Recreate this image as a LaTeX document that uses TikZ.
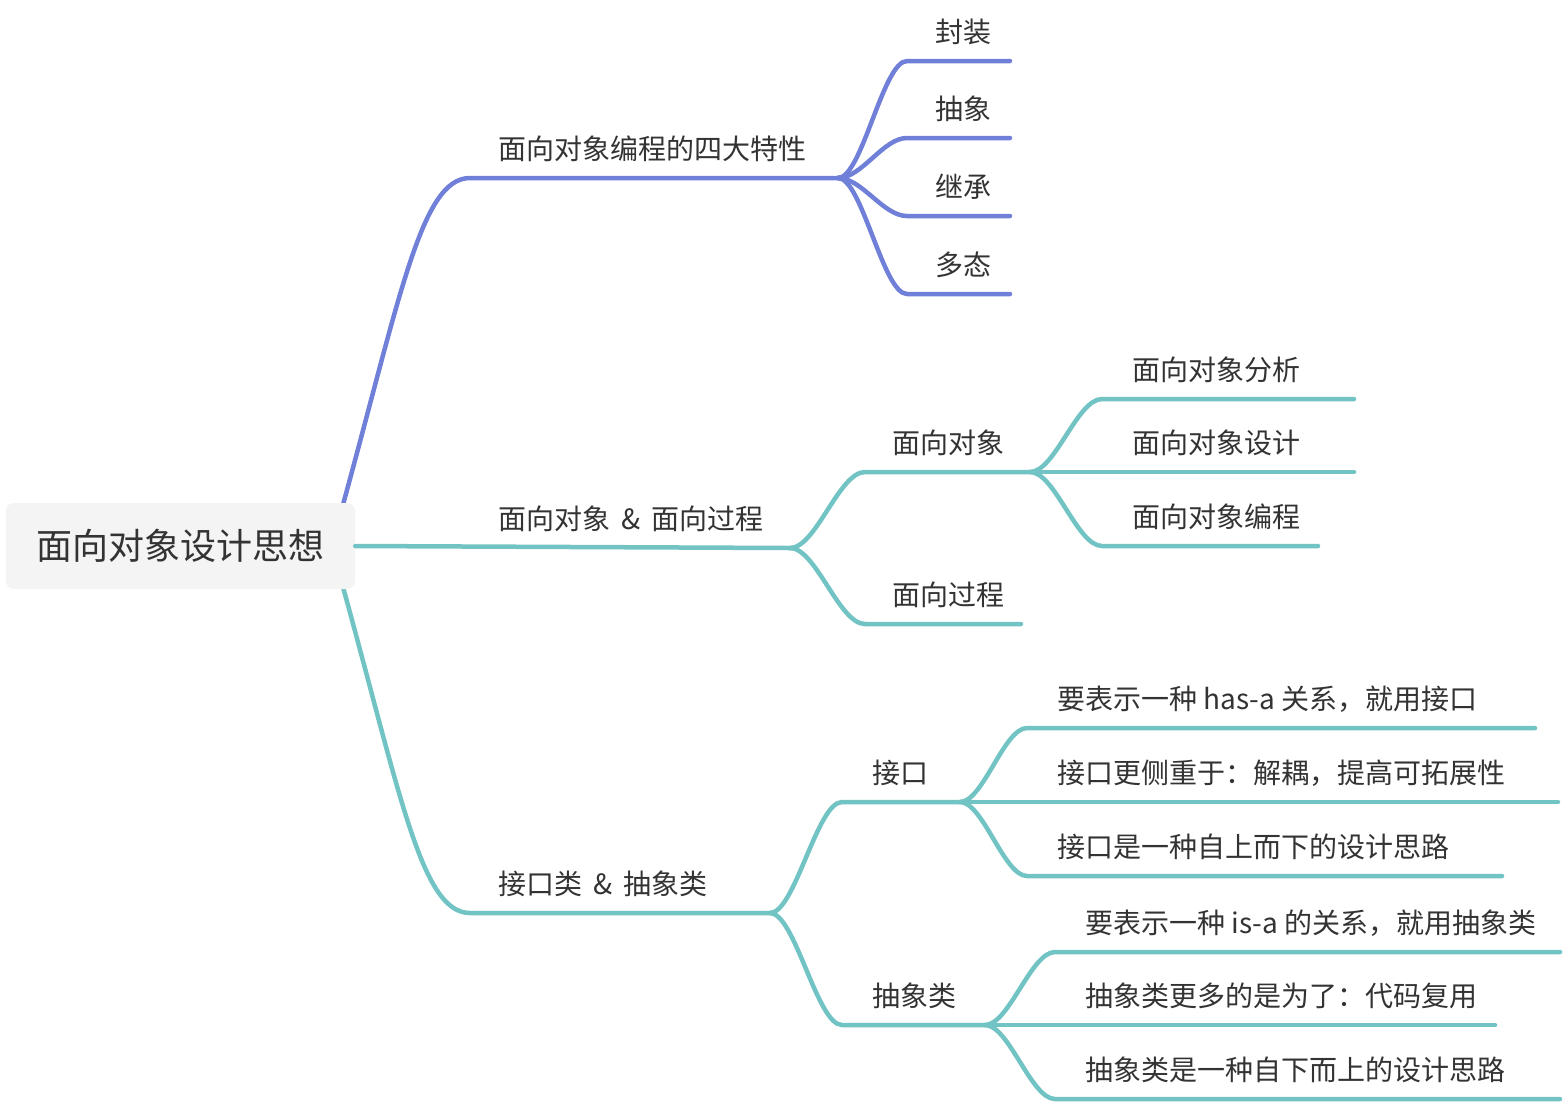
\documentclass[tikz,border=0pt]{standalone}
\usepackage{fontspec}
\newfontfamily\cjk{Noto Sans CJK SC}
\usetikzlibrary{backgrounds}
\definecolor{bl}{RGB}{112,128,216}
\definecolor{tl}{RGB}{114,196,196}
\definecolor{tx}{RGB}{51,51,51}
\definecolor{rootbg}{RGB}{244,244,244}
\begin{document}
\begin{tikzpicture}[x=1pt,y=-1pt,
  br/.style={line width=4.5pt, line cap=round, line join=round},
  lbl/.style={anchor=base west, inner sep=0pt, text=tx, font=\cjk\fontsize{28}{34}\selectfont},
  rootbox/.style={fill=rootbg, rounded corners=8pt, minimum width=349pt, minimum height=86pt, inner sep=0pt, text=tx, font=\cjk\fontsize{36}{42}\selectfont}]
\useasboundingbox (0,0) rectangle (1564,1104);

% root
\node[rootbox] (root) at (180.5,546) {面向对象设计思想};

% coordinates
\coordinate (r1) at (336,530);
\coordinate (r3) at (336,562);
\coordinate (b1s) at (470,178);
\coordinate (b1) at (838,178);
\coordinate (b2) at (790,548);
\coordinate (b3s) at (470,913);
\coordinate (b3) at (770,913);

\begin{scope}[on background layer]
\fill[white] (0,0) rectangle (1564,1104);
\draw[br,bl] (r1) .. controls (400,300) and (420,178) .. (b1s) -- (b1);
\draw[br,tl] (r3) .. controls (400,790) and (420,913) .. (b3s) -- (b3);
\end{scope}
\draw[br,tl] (root.east) -- (b2);

% branch 1 labels
\node[lbl] (t1) at (498,159) {面向对象编程的四大特性};

% branch 1 leaves
\coordinate (l1s) at (907,61);   \coordinate (l1e) at (1010,61);
\coordinate (l2s) at (907,138);  \coordinate (l2e) at (1010,138);
\coordinate (l3s) at (907,216);  \coordinate (l3e) at (1010,216);
\coordinate (l4s) at (907,294);  \coordinate (l4e) at (1010,294);
\draw[br,bl] (b1) .. controls (862,178) and (883,61) .. (l1s) -- (l1e);
\draw[br,bl] (b1) .. controls (862,178) and (883,138) .. (l2s) -- (l2e);
\draw[br,bl] (b1) .. controls (862,178) and (883,216) .. (l3s) -- (l3e);
\draw[br,bl] (b1) .. controls (862,178) and (883,294) .. (l4s) -- (l4e);
\node[lbl] (t11) at (935,42) {封装};
\node[lbl] (t12) at (935,119) {抽象};
\node[lbl] (t13) at (935,197) {继承};
\node[lbl] (t14) at (935,275) {多态};

% branch 2
\node[lbl] (t2) at (498,529) {面向对象\hspace{11pt}\&\hspace{11pt}面向过程};
\coordinate (m1s) at (865,472); \coordinate (b21) at (1030,472);
\coordinate (m2s) at (865,624); \coordinate (m2e) at (1021,624);
\draw[br,tl] (b2) .. controls (816,548) and (839,472) .. (m1s) -- (b21);
\draw[br,tl] (b2) .. controls (816,548) and (839,624) .. (m2s) -- (m2e);
\node[lbl] (t21) at (892,453) {面向对象};
\node[lbl] (t22) at (892,605) {面向过程};

\coordinate (n1s) at (1102,399); \coordinate (n1e) at (1354,399);
\coordinate (n2e) at (1354,472);
\coordinate (n3s) at (1102,546); \coordinate (n3e) at (1318,546);
\draw[br,tl] (b21) .. controls (1055,472) and (1077,399) .. (n1s) -- (n1e);
\draw[br,tl] (b21) -- (n2e);
\draw[br,tl] (b21) .. controls (1055,472) and (1077,546) .. (n3s) -- (n3e);
\node[lbl] (t211) at (1132,380) {面向对象分析};
\node[lbl] (t212) at (1132,453) {面向对象设计};
\node[lbl] (t213) at (1132,527) {面向对象编程};

% branch 3
\node[lbl] (t3) at (498,894) {接口类\hspace{11pt}\&\hspace{11pt}抽象类};
\coordinate (k1s) at (842,802); \coordinate (b31) at (960,802);
\coordinate (k2s) at (842,1025); \coordinate (b32) at (985,1025);
\draw[br,tl] (b3) .. controls (795,913) and (817,802) .. (k1s) -- (b31);
\draw[br,tl] (b3) .. controls (795,913) and (817,1025) .. (k2s) -- (b32);
\node[lbl] (t31) at (872,783) {接口};
\node[lbl] (t32) at (872,1006) {抽象类};

\coordinate (p1s) at (1027,728); \coordinate (p1e) at (1535,728);
\coordinate (p2e) at (1558,802);
\coordinate (p3s) at (1027,876); \coordinate (p3e) at (1502,876);
\draw[br,tl] (b31) .. controls (983,802) and (1004,728) .. (p1s) -- (p1e);
\draw[br,tl] (b31) -- (p2e);
\draw[br,tl] (b31) .. controls (983,802) and (1004,876) .. (p3s) -- (p3e);
\node[lbl] (t311) at (1057,709) {要表示一种 has-a 关系，就用接口};
\node[lbl] (t312) at (1057,783) {接口更侧重于：解耦，提高可拓展性};
\node[lbl] (t313) at (1057,857) {接口是一种自上而下的设计思路};

\coordinate (q1s) at (1055,952); \coordinate (q1e) at (1560,952);
\coordinate (q2e) at (1495,1025);
\coordinate (q3s) at (1055,1099); \coordinate (q3e) at (1560,1099);
\draw[br,tl] (b32) .. controls (1009,1025) and (1031,952) .. (q1s) -- (q1e);
\draw[br,tl] (b32) -- (q2e);
\draw[br,tl] (b32) .. controls (1009,1025) and (1031,1099) .. (q3s) -- (q3e);
\node[lbl] (t321) at (1085,933) {要表示一种 is-a 的关系，就用抽象类};
\node[lbl] (t322) at (1085,1006) {抽象类更多的是为了：代码复用};
\node[lbl] (t323) at (1085,1080) {抽象类是一种自下而上的设计思路};
\end{tikzpicture}
\end{document}
